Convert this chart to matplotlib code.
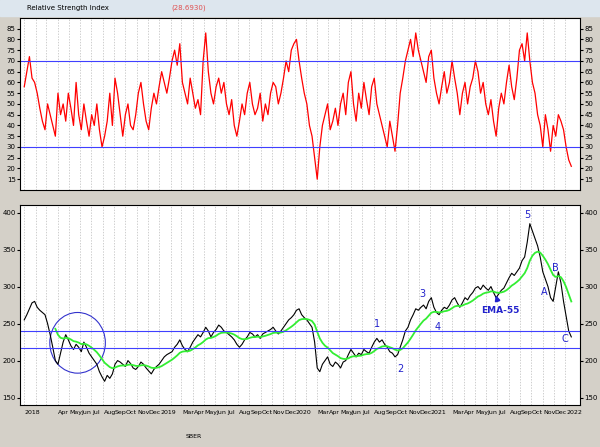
import matplotlib
matplotlib.use("Agg")
import matplotlib.pyplot as plt
import matplotlib.dates as mdates
from matplotlib.patches import Ellipse, Rectangle
import numpy as np
import pandas as pd

rsi = [58,65,72,62, 60,55,48,42, 38,50,45,40, 35,55,45,50,42, 55,48,40,60, 45,38,50,42, 35,45,40,50,38, 30,35,42,55, 40,62,55,45, 35,45,50,40,38, 45,55,60,50, 42,38,48,55,50,
       58,65,60,55, 62,70,75,68, 78,60,55,50, 62,55,48,52,45, 70,83,65,55, 50,58,62,55, 60,50,45,52,40, 35,42,50,45, 55,60,50,45, 48,55,42,50,45, 55,60,58,50, 55,62,70,65,75,
       78,80,70,62, 55,50,40,35, 25,15,30,40, 45,50,38,42,48, 40,50,55,45, 60,65,50,42, 55,48,60,52,45, 58,62,50,45, 40,35,30,42, 35,28,40,55,62, 70,75,80,72, 83,75,70,65,60,
       72,75,62,55, 50,58,65,55, 60,70,62,55, 45,55,60,50,58, 62,70,65,55, 60,50,45,52, 42,35,48,55,50, 60,68,58,52, 62,75,78,70, 83,70,60,55,45, 40,30,45,38, 28,40,35,45,42,
       38,30,24,21]
price = [255,262,270,278, 280,272,268,265, 262,250,235,218, 200,195,210,225,235, 228,220,215,222, 218,212,225,218, 210,205,200,195,185, 178,172,180,176, 182,195,200,198, 195,192,200,196,190, 188,192,198,195, 190,186,182,188,192,
         195,200,205,208, 210,212,218,222, 228,220,215,212, 218,225,230,235,232, 238,245,240,232, 238,242,248,245, 240,238,235,232,228, 222,218,222,228, 232,238,236,232, 235,230,236,238,240, 242,245,240,236, 240,245,250,255,258,
         262,268,270,262, 258,255,250,245, 225,190,185,195, 200,205,195,192,198, 195,190,198,200, 208,215,210,205, 210,208,215,212,210, 218,225,230,225, 228,222,218,212, 210,205,208,218,228, 240,245,255,262, 270,268,272,275,270,
         280,285,272,265, 262,268,272,270, 275,282,285,278, 272,278,285,282,288, 292,298,300,296, 302,298,295,300, 292,285,290,295,298, 305,312,318,315, 320,325,335,340, 360,385,375,365,355, 340,320,310,300, 285,280,300,320,305,
         280,260,240,232]
dates = pd.date_range("2018-01-01", periods=len(price), freq="7D")
ema = pd.Series(price).ewm(span=11, adjust=False).mean().values
labels = [("1","2020-08-10",249),("2","2020-10-12",188),("3","2020-12-10",290),("4","2021-01-20",246),
          ("5","2021-09-20",397),("A","2021-11-05",292),("B","2021-12-05",325),("C","2021-12-30",229)]

fig = plt.figure(figsize=(6,4.47), dpi=100, facecolor="#d4d0c8")
fig.patches.append(Rectangle((0,0.965),1,0.035,transform=fig.transFigure,color="#dde6ee",zorder=0))
fig.text(0.045,0.982,"Relative Strength Index",fontsize=5,va="center")
fig.text(0.285,0.982,"(28.6930)",fontsize=5,va="center",color="#e05050")
fig.patches.append(Rectangle((0,0),1,0.07,transform=fig.transFigure,color="#d4d0c8",zorder=0))
fig.text(0.31,0.02,"SBER",fontsize=4.5)

ax1 = fig.add_axes([0.033,0.575,0.934,0.385])
ax2 = fig.add_axes([0.033,0.094,0.934,0.447])
start, end = pd.Timestamp("2017-12-20"), pd.Timestamp("2022-02-10")
for ax in (ax1, ax2):
    ax.set_facecolor("white")
    ax.set_xlim(start, end)
    for d in pd.date_range("2018-01-01","2022-01-01",freq="MS"):
        ax.axvline(d, color="#bbbbbb", ls=(0,(2,2)), lw=0.5, zorder=0)
    ax.tick_params(labelsize=5, length=2, left=True, right=True, labelleft=True, labelright=True, pad=1)
    ax.set_xticks([])

ax1.plot(dates[:len(rsi)], rsi, color="red", lw=0.9)
ax1.axhline(70, color="#4040ff", lw=0.8); ax1.axhline(30, color="#4040ff", lw=0.8)
ax1.set_ylim(10,90); ax1.set_yticks(range(15,90,5))

ax2.plot(dates, price, color="black", lw=0.8)
ax2.plot(dates[12:], ema[12:], color="#33ee33", lw=1.3)
ax2.axhline(240, color="#4040ff", lw=0.8); ax2.axhline(217, color="#4040ff", lw=0.8)
ax2.set_ylim(140,410); ax2.set_yticks(range(150,401,50))
ax2.add_patch(Ellipse((mdates.date2num(pd.Timestamp("2018-05-25")),224),150,82,fill=False,ec="#3333cc",lw=0.8))
for t,d,v in labels:
    ax2.text(pd.Timestamp(d),v,t,color="#2222cc",fontsize=7,ha="center",va="center")
ax2.annotate("EMA-55",xy=(pd.Timestamp("2021-06-25"),292),xytext=(pd.Timestamp("2021-07-10"),264),
             color="#2222cc",fontsize=6.5,fontweight="bold",ha="center",
             arrowprops=dict(arrowstyle="-|>",color="#2222cc",lw=1.5))
mon = ["Jan","Feb","Mar","Apr","May","Jun","Jul","Aug","Sep","Oct","Nov","Dec"]
for d in pd.date_range("2018-01-01","2022-01-01",freq="MS"):
    if d.month == 2 or (d.year == 2018 and d.month == 3):
        continue
    lab = str(d.year) if d.month == 1 else mon[d.month-1]
    ax2.text(d + pd.Timedelta(days=2), 133, lab, fontsize=4.5, ha="left", va="top", clip_on=False)
fig.savefig("out.png", dpi=100, facecolor=fig.get_facecolor())
